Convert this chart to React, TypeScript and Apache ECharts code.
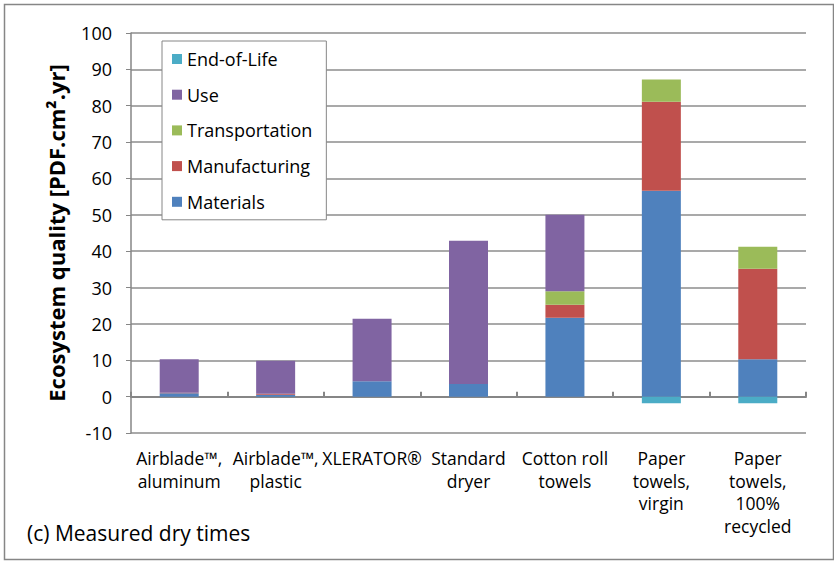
import React, { useEffect, useRef } from "react";
import * as echarts from "echarts";

const categories = [
  "Airblade™,\naluminum",
  "Airblade™,\nplastic",
  "XLERATOR®",
  "Standard\ndryer",
  "Cotton roll\ntowels",
  "Paper\ntowels,\nvirgin",
  "Paper\ntowels,\n100%\nrecycled",
];
const materials = [0.9, 0.5, 4.2, 3.5, 21.7, 56.6, 10.3];
const manufacturing = [0.2, 0.3, 0, 0, 3.6, 24.5, 24.9];
const transportation = [0, 0, 0, 0, 3.7, 6.1, 6.0];
const use = [9.2, 9.1, 17.2, 39.4, 21.0, 0, 0];
const endOfLife = [0, 0, 0, 0, 0, -1.8, -1.8];
const legendOrder = ["End-of-Life", "Use", "Transportation", "Manufacturing", "Materials"];

const FONT = "'Open Sans', sans-serif";

export default function App() {
  const ref = useRef<HTMLDivElement>(null);
  useEffect(() => {
    if (!ref.current) return;
    const chart = echarts.init(ref.current, undefined, { renderer: "svg" });
    const mk = (name: string, data: number[], color: string) => ({
      name,
      type: "bar",
      stack: "total",
      data,
      barWidth: 39,
      xAxisIndex: 0,
      itemStyle: { color },
    });
    chart.setOption({
      animation: false,
      textStyle: { fontFamily: FONT },
      grid: { left: 131, right: 28, top: 33, bottom: 128 },
      legend: {
        data: legendOrder,
        orient: "vertical",
        left: 162,
        top: 41,
        padding: [8, 14, 8, 10],
        itemGap: 15.7,
        itemWidth: 10,
        itemHeight: 10,
        icon: "rect",
        borderColor: "#868686",
        borderWidth: 1,
        backgroundColor: "#fff",
        textStyle: { fontFamily: FONT, fontSize: 18, color: "#000", lineHeight: 20 },
      },
      xAxis: [
        {
          type: "category",
          data: categories,
          position: "bottom",
          axisLine: { show: false, onZero: false },
          axisTick: { show: false },
          axisLabel: {
            interval: 0,
            fontSize: 17.5,
            lineHeight: 22.5,
            color: "#000",
            margin: 14,
            fontFamily: FONT,
          },
        },
        {
          type: "category",
          data: categories,
          position: "bottom",
          axisLine: { show: true, onZero: true, lineStyle: { color: "#868686", width: 2 } },
          axisTick: { show: true, inside: true, length: 5, lineStyle: { color: "#868686", width: 2 } },
          axisLabel: { show: false },
        },
      ],
      yAxis: {
        type: "value",
        min: -10,
        max: 100,
        interval: 10,
        name: "Ecosystem quality [PDF.cm².yr]",
        nameLocation: "middle",
        nameGap: 64,
        nameTextStyle: { fontSize: 22, fontWeight: "bold", color: "#000", fontFamily: FONT },
        axisLine: { show: true, lineStyle: { color: "#868686", width: 1.5 } },
        axisTick: { show: true, length: 5, lineStyle: { color: "#868686" } },
        axisLabel: { fontSize: 18, color: "#000", margin: 19, fontFamily: FONT },
        splitLine: { show: true, lineStyle: { color: "#8c8c8c", width: 1.5 } },
      },
      series: [
        mk("Materials", materials, "#4F81BD"),
        mk("Manufacturing", manufacturing, "#C0504D"),
        mk("Transportation", transportation, "#9BBB59"),
        mk("Use", use, "#8064A2"),
        mk("End-of-Life", endOfLife, "#4BACC6"),
      ],
      graphic: [
        {
          type: "rect",
          left: 2,
          top: 2,
          shape: { width: 829, height: 555 },
          style: { fill: "none", stroke: "#868686", lineWidth: 1.5 },
          silent: true,
        },
        {
          type: "text",
          left: 27,
          top: 522,
          style: { text: "(c) Measured dry times", fontSize: 21, fill: "#000", fontFamily: FONT },
        },
      ],
    });
    return () => chart.dispose();
  }, []);
  return (
    <div
      ref={ref}
      style={{ position: "fixed", left: 0, top: 0, width: 834, height: 561, background: "#fff" }}
    />
  );
}
